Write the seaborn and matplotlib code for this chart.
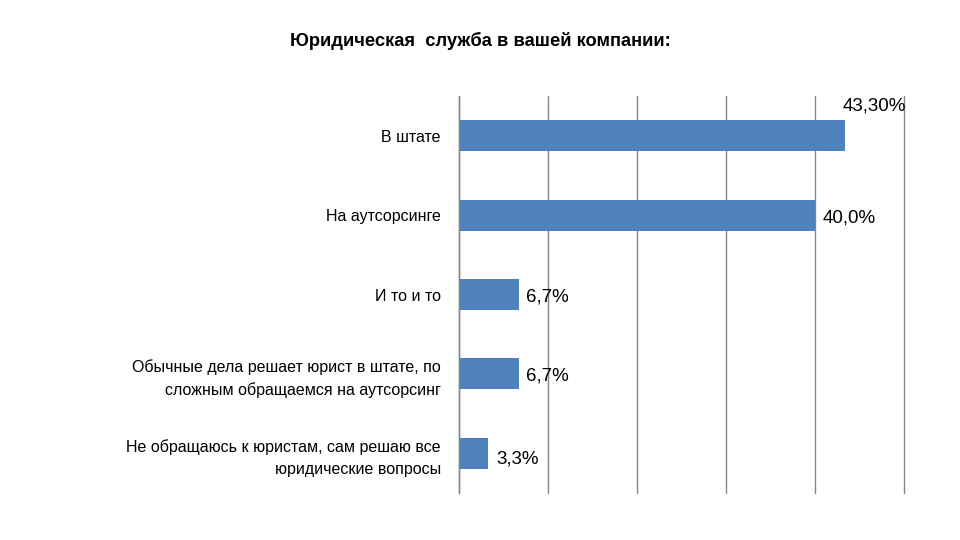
import pandas as pd
import matplotlib.pyplot as plt
import seaborn as sns

# chart data
categories = [
    'В штате',
    'На аутсорсинге',
    'И то и то',
    'Обычные дела решает юрист в штате, по\nсложным обращаемся на аутсорсинг',
    'Не обращаюсь к юристам, сам решаю все\nюридические вопросы',
]
values = [43.3, 40.0, 6.7, 6.7, 3.3]
value_labels = ['43,30%', '40,0%', '6,7%', '6,7%', '3,3%']
x_ticks = [0, 10, 20, 30, 40, 50]

df = pd.DataFrame({'category': categories, 'value': values})

sns.set_style('white')
plt.rcParams['font.family'] = ['Liberation Sans', 'DejaVu Sans']
plt.rcParams['text.color'] = 'black'

fig = plt.figure(figsize=(9.6, 5.4), dpi=100)
ax = fig.add_axes([0.478, 0.087, 0.464, 0.735])

sns.barplot(data=df, y='category', x='value', orient='h', color='#4f81bd',
            width=0.39, saturation=1, linewidth=0, ax=ax)

ax.set_xlim(0, 50)
ax.set_xticks(x_ticks)
ax.set_xticklabels([])
ax.tick_params(axis='x', length=0)
ax.grid(axis='x', color='#868686', linewidth=1)
for gl in ax.get_xgridlines():
    gl.set_clip_on(False)
ax.set_axisbelow(True)

# y ticks at category boundaries
ax.set_ylim(len(categories) - 0.5, -0.5)
ax.set_yticks([i - 0.5 for i in range(len(categories) + 1)], minor=False)
ax.set_yticklabels([])
ax.set_yticks(range(len(categories)), minor=True)
ax.set_yticklabels(categories, minor=True, fontsize=11.5, ha='right',
                   linespacing=1.55, color='black')
ax.tick_params(axis='y', which='major', length=6, color='#868686', width=1)
ax.tick_params(axis='y', which='minor', length=0, pad=13)

for side in ['top', 'right', 'bottom']:
    ax.spines[side].set_visible(False)
ax.spines['left'].set_color('#868686')
ax.spines['left'].set_linewidth(1)

ax.set_xlabel('')
ax.set_ylabel('')

for i, (v, lab) in enumerate(zip(values, value_labels)):
    if i == 0:
        ax.text(v + 3.3, i - 0.37, lab, ha='center', va='center', fontsize=13.5)
    else:
        dy = 0.07 if i == 4 else 0.03
        ax.text(v + 0.85, i + dy, lab, ha='left', va='center', fontsize=13.5)

fig.text(0.5, 0.925, 'Юридическая  служба в вашей компании:', ha='center',
         va='center', fontsize=13.2, fontweight='bold')

fig.savefig('out.png', dpi=100)
